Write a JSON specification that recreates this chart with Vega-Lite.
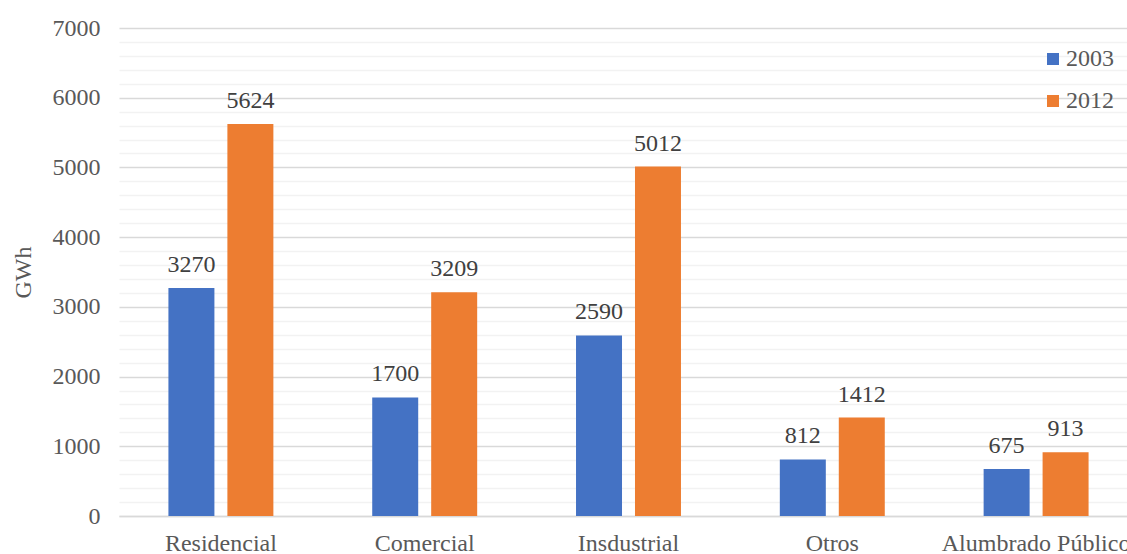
{
  "$schema": "https://vega.github.io/schema/vega-lite/v6.json",
  "autosize": {"type": "none"},
  "padding": {"left": 119, "top": 28, "right": 0, "bottom": 38},
  "width": 1019,
  "height": 488,
  "background": "white",
  "config": {
    "font": "'Liberation Serif', 'Times New Roman', Times, serif",
    "view": {"stroke": null}
  },
  "data": {
    "values": [
      {"sector": "Residencial", "year": "2003", "gwh": 3270},
      {"sector": "Residencial", "year": "2012", "gwh": 5624},
      {"sector": "Comercial", "year": "2003", "gwh": 1700},
      {"sector": "Comercial", "year": "2012", "gwh": 3209},
      {"sector": "Insdustrial", "year": "2003", "gwh": 2590},
      {"sector": "Insdustrial", "year": "2012", "gwh": 5012},
      {"sector": "Otros", "year": "2003", "gwh": 812},
      {"sector": "Otros", "year": "2012", "gwh": 1412},
      {"sector": "Alumbrado Público", "year": "2003", "gwh": 675},
      {"sector": "Alumbrado Público", "year": "2012", "gwh": 913}
    ]
  },
  "encoding": {
    "x": {
      "field": "sector",
      "type": "nominal",
      "sort": null,
      "scale": {"paddingInner": 0.485, "paddingOuter": 0.2425},
      "axis": {
        "title": null,
        "labelAngle": 0,
        "labelLimit": 400,
        "labelFont": "'Liberation Serif', 'Times New Roman', Times, serif",
        "labelFontSize": 24,
        "labelColor": "#595959",
        "labelPadding": 15,
        "ticks": false,
        "domainColor": "#D9D9D9",
        "domainWidth": 1.5
      }
    },
    "xOffset": {
      "field": "year",
      "type": "nominal",
      "scale": {"paddingInner": 0.22, "paddingOuter": 0}
    },
    "y": {
      "field": "gwh",
      "type": "quantitative",
      "scale": {"domain": [0, 7000], "nice": false},
      "axis": {
        "title": "GWh",
        "titleFont": "'Liberation Serif', 'Times New Roman', Times, serif",
        "titleFontSize": 24,
        "titleFontWeight": "normal",
        "titleColor": "#595959",
        "titleX": -96,
        "titleY": 244,
        "titleAngle": -90,
        "titleAlign": "center",
        "titleBaseline": "middle",
        "values": [0, 200, 400, 600, 800, 1000, 1200, 1400, 1600, 1800, 2000, 2200, 2400, 2600, 2800, 3000, 3200, 3400, 3600, 3800, 4000, 4200, 4400, 4600, 4800, 5000, 5200, 5400, 5600, 5800, 6000, 6200, 6400, 6600, 6800, 7000],
        "format": "d",
        "labelExpr": "datum.value % 1000 === 0 ? datum.label : ''",
        "labelFont": "'Liberation Serif', 'Times New Roman', Times, serif",
        "labelFontSize": 24,
        "labelColor": "#595959",
        "labelPadding": 19,
        "ticks": false,
        "domain": false,
        "grid": true,
        "gridWidth": 1.5,
        "gridColor": {
          "condition": {"test": "datum.value % 1000 === 0", "value": "#D9D9D9"},
          "value": "#F2F2F2"
        }
      }
    },
    "color": {
      "field": "year",
      "type": "nominal",
      "scale": {"domain": ["2003", "2012"], "range": ["#4472C4", "#ED7D31"]},
      "legend": {
        "title": null,
        "orient": "none",
        "legendX": 922,
        "legendY": 19,
        "padding": 0,
        "symbolType": "square",
        "symbolSize": 144,
        "symbolStrokeWidth": 0,
        "labelFont": "'Liberation Serif', 'Times New Roman', Times, serif",
        "labelFontSize": 24,
        "labelColor": "#595959",
        "labelOffset": 1,
        "rowPadding": 18
      }
    }
  },
  "layer": [
    {"mark": {"type": "bar"}},
    {
      "mark": {
        "type": "text",
        "baseline": "alphabetic",
        "dy": -16,
        "font": "'Liberation Serif', 'Times New Roman', Times, serif",
        "fontSize": 24,
        "color": "#404040"
      },
      "encoding": {
        "text": {"field": "gwh", "type": "quantitative", "format": "d"},
        "color": {"value": "#404040"}
      }
    }
  ]
}
